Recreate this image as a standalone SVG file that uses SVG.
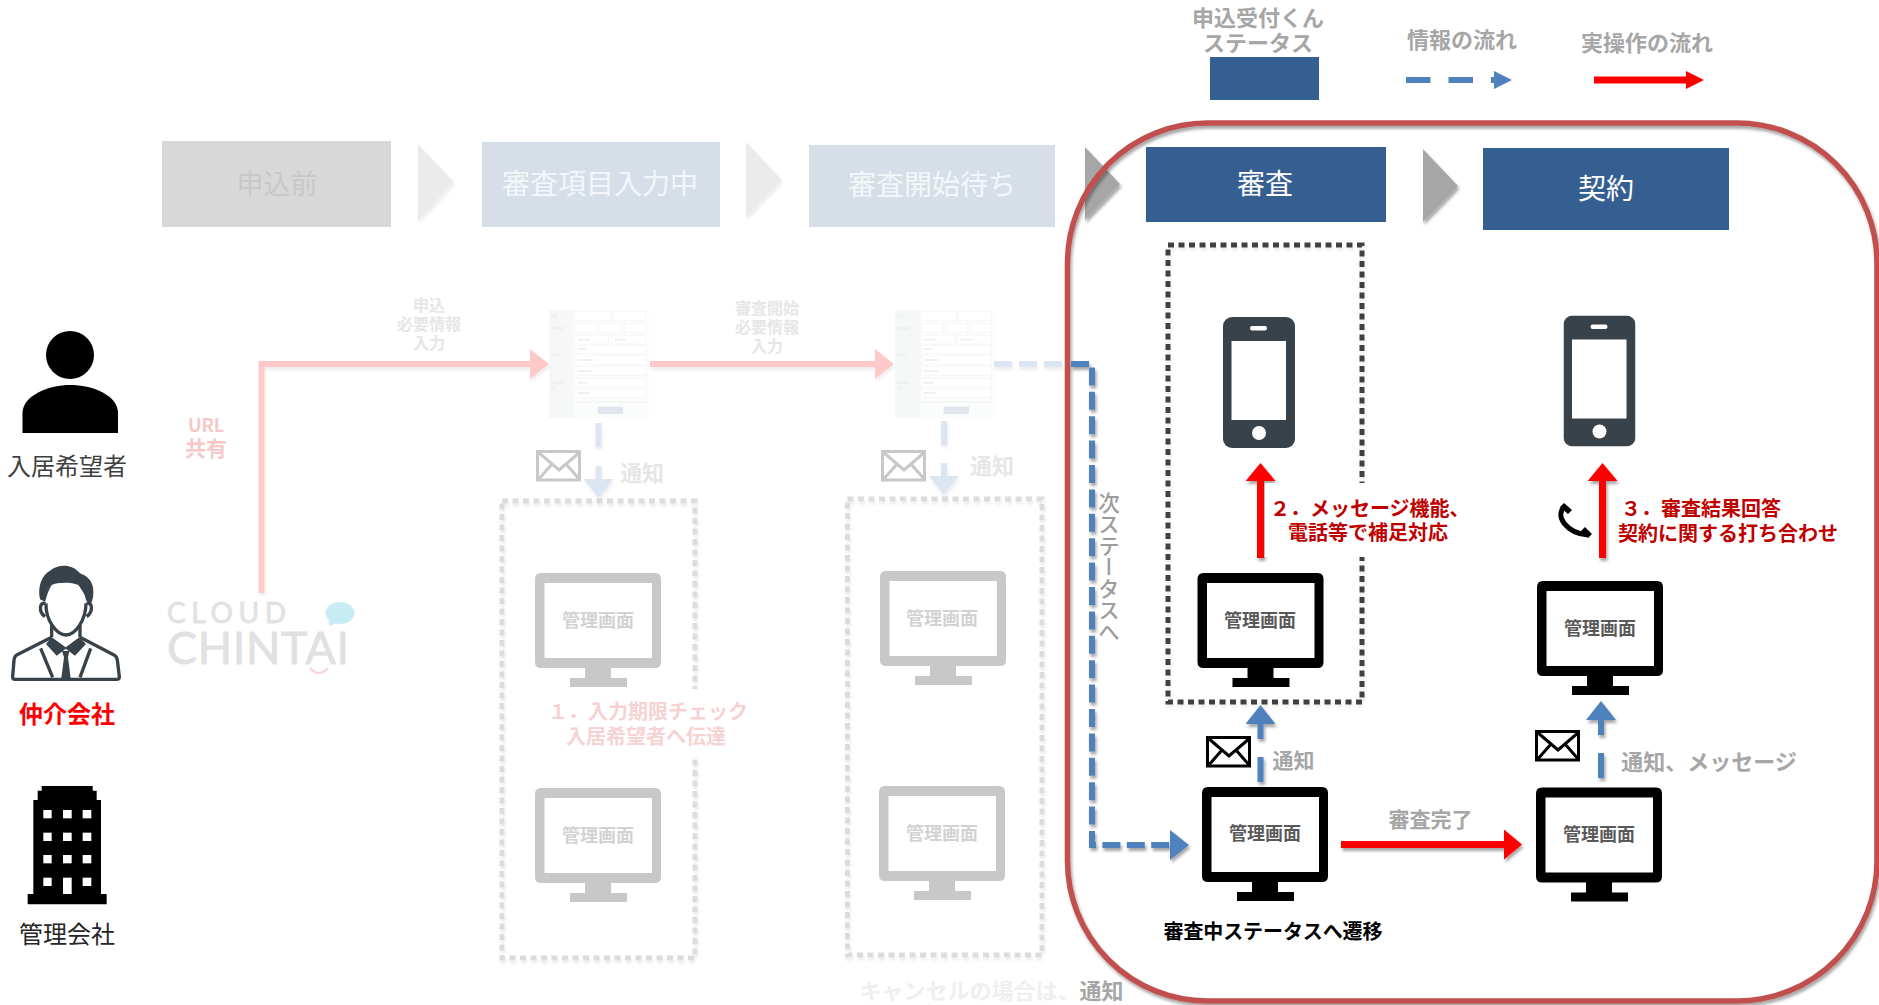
<svg xmlns="http://www.w3.org/2000/svg" xmlns:xlink="http://www.w3.org/1999/xlink" width="1879" height="1005" viewBox="0 0 1879 1005">
<style>
text{font-family:"Noto Sans CJK JP","Noto Sans",sans-serif;text-anchor:middle;dominant-baseline:central;transform:translateY(-2px)}
.b{font-weight:700}
.g{fill:#a6a6a6;font-weight:700}
.hd{fill:#fff;font-size:28px}
.pale{fill:#e6e6e6;font-weight:700}
.mt{fill:#595959;font-size:18px;font-weight:700}
.mtf{fill:#d2d2d2;font-size:18px;font-weight:700}
.red{fill:#c00000;font-size:20px;font-weight:700;text-anchor:start}
.blue{stroke:#4f81bd;stroke-width:6;fill:none}
.bluef{stroke:#dce6f2;stroke-width:6;fill:none}
.redl{stroke:#f00;stroke-width:7;fill:none}
.pink{stroke:#ffc9c9;stroke-width:6;fill:none}
.dot{fill:none;stroke:#404040;stroke-width:5;stroke-dasharray:6 4.5}
.dotf{fill:none;stroke:#dcdcdc;stroke-width:5;stroke-dasharray:6 4.5}
.env{fill:#fff;stroke:#000;stroke-width:3}
.envf{fill:#fff;stroke:#c8c8c8;stroke-width:3}
.tri{fill:#a6a6a6}
.trif{fill:#ebebeb}
.logo{font-family:Lato,sans-serif;text-anchor:start;dominant-baseline:alphabetic;transform:none;stroke-width:.8}
.vert{writing-mode:vertical-rl;dominant-baseline:auto;transform:none}
</style>
<defs>
<filter id="sh" filterUnits="userSpaceOnUse" x="0" y="0" width="1879" height="1005"><feDropShadow dx="1.500" dy="3" stdDeviation="1.800" flood-color="#000" flood-opacity=".35"/></filter>
<filter id="shl" filterUnits="userSpaceOnUse" x="0" y="0" width="1879" height="1005"><feDropShadow dx="1" dy="3" stdDeviation="1.500" flood-color="#000" flood-opacity=".07"/></filter>
<marker id="hr" markerUnits="userSpaceOnUse" markerWidth="18" markerHeight="30" refX="1" refY="15" orient="auto"><path d="M0 0L18 15L0 30Z" fill="#f00"/></marker>
<marker id="hb" markerUnits="userSpaceOnUse" markerWidth="19" markerHeight="30" refX="1" refY="15" orient="auto"><path d="M0 0L19 15L0 30Z" fill="#4f81bd"/></marker>
<marker id="hp" markerUnits="userSpaceOnUse" markerWidth="19" markerHeight="30" refX="1" refY="15" orient="auto"><path d="M0 0L19 15L0 30Z" fill="#ffc9c9"/></marker>
<marker id="hf" markerUnits="userSpaceOnUse" markerWidth="19" markerHeight="30" refX="1" refY="15" orient="auto"><path d="M0 0L19 15L0 30Z" fill="#dce6f2"/></marker>
<marker id="lr" markerUnits="userSpaceOnUse" markerWidth="18" markerHeight="20" refX="1" refY="10" orient="auto"><path d="M0 1L18 10L0 19Z" fill="#f00"/></marker>
<marker id="lb" markerUnits="userSpaceOnUse" markerWidth="18" markerHeight="20" refX="1" refY="10" orient="auto"><path d="M0 1L18 10L0 19Z" fill="#4f81bd"/></marker>
<symbol id="mon" width="127" height="115" viewBox="0 0 127 115" overflow="visible"><path fill-rule="evenodd" d="M6 0H120Q126 0 126 6V89Q126 95 120 95H76V105H92V114H35V105H50V95H6Q0 95 0 89V6Q0 0 6 0ZM9.500 10V85H117V10Z"/></symbol>
<symbol id="envS" width="46" height="32" viewBox="0 0 46 32" overflow="visible"><rect x="1.500" y="1.500" width="42" height="28.500"/><path d="M2 2L23 20L44 2M2 30L16 14M44 30L30 14" fill="none"/></symbol>
<symbol id="phone" width="72" height="131" viewBox="0 0 72 131"><rect width="72" height="131" rx="9" fill="#37424a"/><rect x="8.500" y="24" width="54.500" height="79" fill="#fff"/><rect x="27" y="9" width="17" height="4.500" rx="2.200" fill="#fff"/><ellipse cx="36" cy="116" rx="7" ry="7" fill="#fff"/></symbol>
<symbol id="form" width="100" height="108" viewBox="0 0 300 324">
<rect width="300" height="324" fill="#fbfcfc"/><rect width="74" height="324" fill="#f6f8f8"/>
<g fill="#fff" stroke="#f7f3f3" stroke-width="2"><rect x="78" y="4" width="108" height="28"/><rect x="190" y="4" width="100" height="28"/><rect x="78" y="40" width="66" height="28"/><rect x="152" y="40" width="66" height="28"/><rect x="226" y="40" width="64" height="28"/><rect x="78" y="76" width="100" height="26"/><rect x="188" y="76" width="102" height="26"/><rect x="78" y="106" width="212" height="24"/><rect x="78" y="136" width="212" height="28"/><rect x="78" y="170" width="212" height="26"/><rect x="78" y="206" width="212" height="24"/><rect x="78" y="236" width="212" height="26"/></g>
<g fill="#eff1f1"><rect x="6" y="14" width="22" height="9"/><rect x="6" y="50" width="38" height="9"/><rect x="6" y="130" width="30" height="9"/><rect x="6" y="214" width="38" height="9"/><rect x="6" y="228" width="12" height="9"/><rect x="86" y="86" width="36" height="6"/><rect x="196" y="86" width="36" height="6"/><rect x="86" y="114" width="24" height="6"/><rect x="86" y="147" width="44" height="6"/><rect x="86" y="180" width="44" height="6"/><rect x="86" y="215" width="30" height="6"/><rect x="86" y="246" width="36" height="6"/></g>
<path d="M78 276H290" stroke="#f0f0f0" stroke-width="4" stroke-dasharray="3 2"/><rect x="146" y="290" width="76" height="22" fill="#dfe6ee"/>
</symbol>
</defs>
<rect width="1879" height="1005" fill="#fff"/>

<g id="legend">
<text class="g" x="1258" y="18" font-size="22">申込受付くん</text>
<text class="g" x="1258" y="43" font-size="22">ステータス</text>
<rect x="1210" y="57" width="109" height="43" fill="#365f91"/>
<text class="g" x="1462" y="40" font-size="22">情報の流れ</text>
<text class="g" x="1647" y="43" font-size="22">実操作の流れ</text>
<line class="blue" x1="1406" y1="80" x2="1495" y2="80" stroke-dasharray="24.500 18" marker-end="url(#lb)"/>
<line class="redl" x1="1594" y1="80" x2="1687" y2="80" marker-end="url(#lr)"/>
</g>

<g id="status-bar">
<g id="st-mae"><rect x="162" y="141" width="229" height="86" fill="#d8d8d8"/><text x="277" y="184" font-size="27" fill="#c8c8c8">申込前</text></g>
<g id="st-nyuryoku"><rect x="482" y="142" width="238" height="85" fill="#d6dfe8"/><text class="hd" x="600" y="184" fill-opacity=".75">審査項目入力中</text></g>
<g id="st-machi"><rect x="809" y="145" width="246" height="82" fill="#d6dfe8"/><text class="hd" x="932" y="185" fill-opacity=".75">審査開始待ち</text></g>
<polygon class="trif" filter="url(#shl)" points="418,144 454,182 418,221"/>
<polygon class="trif" filter="url(#shl)" points="746,142 782,180 746,218"/>
<polygon class="tri" filter="url(#sh)" points="1085,147 1120,184 1085,220"/>
</g>

<g id="actors">
<g id="actor-nyukyo"><ellipse cx="70" cy="355" rx="24" ry="24"/><path d="M22.500 433V413C22.500 395 50 385 70 385C92 385 118 395 118 413V433Z"/><text x="67" y="466" font-size="24" fill="#404040">入居希望者</text></g>
<g id="actor-chukai"><g transform="translate(0,540) scale(.33333)" fill="#37424a">
<path d="M120 178C112 140 125 105 150 92C175 72 215 70 240 100C262 108 282 125 280 160C280 175 275 190 270 195L258 180C255 160 245 150 235 135C210 125 170 128 155 135C145 150 140 170 135 185Z"/>
<g fill="none" stroke="#37424a" stroke-width="10"><path d="M138 190C136 240 170 285 198 285C226 285 258 240 258 190"/><path d="M136 190C118 185 115 215 135 230M260 190C278 185 280 215 260 230"/><path d="M155 255V292M240 255V292"/><path d="M155 292L50 345Q44 348 42 360L38 410Q38 418 45 418H350Q358 418 358 410L352 360Q350 348 342 345L240 292"/><path d="M122 325L158 412M272 325L240 412"/></g>
<path d="M138 312L155 292L197 322L238 292L258 312L225 347L197 326L170 347Z"/><path d="M186 333H208L204 352L212 415H184L192 352Z"/></g><text x="67" y="714" font-size="24" fill="#f00" class="b">仲介会社</text></g>
<g id="actor-kanri"><path d="M83 1093V1062H100V780H113V752H125V738H278V752H290V780H303V1062H320V1093Z" transform="translate(0,540) scale(.33333)"/>
<g fill="#fff" transform="translate(0,540) scale(.33333)"><rect x="130" y="810" width="25" height="25"/><rect x="189" y="810" width="26" height="25"/><rect x="248" y="810" width="26" height="25"/><rect x="130" y="878" width="25" height="25"/><rect x="189" y="878" width="26" height="25"/><rect x="248" y="878" width="26" height="25"/><rect x="130" y="945" width="25" height="25"/><rect x="189" y="945" width="26" height="25"/><rect x="248" y="945" width="26" height="25"/><rect x="130" y="1013" width="25" height="25"/><rect x="189" y="1013" width="26" height="49"/><rect x="248" y="1013" width="26" height="25"/></g>
<text x="67" y="934" font-size="24" fill="#262626">管理会社</text></g>
</g>

<g id="logo">
<text class="logo" x="167" y="623" font-size="28" textLength="119" fill="#e0e2e4" stroke="#e0e2e4">CLOUD</text>
<text class="logo" x="167" y="664" font-size="45" textLength="182" fill="#dfe1e3" stroke="#dfe1e3">CHINTAI</text>
<ellipse cx="340" cy="613" rx="14.500" ry="11" fill="#c8ecf4"/><path d="M328 621L330 626L337 623Z" fill="#c8ecf4"/>
<path d="M310 668Q319 678 328 668" fill="none" stroke="#f8d3da" stroke-width="2.500"/>
</g>

<g id="form-1"><use href="#form" x="549" y="310"/></g>
<g id="form-2"><use href="#form" x="895" y="310"/></g>

<g id="faded-labels">
<text class="pale" font-size="16"><tspan x="429" y="306">申込</tspan><tspan x="429" y="325">必要情報</tspan><tspan x="429" y="344">入力</tspan></text>
<text class="pale" font-size="16"><tspan x="767" y="309">審査開始</tspan><tspan x="767" y="328">必要情報</tspan><tspan x="767" y="347">入力</tspan></text>
<text x="206" y="426" font-size="18" fill="#f5c9c9" class="b">URL</text>
<text x="206" y="449" font-size="21" fill="#f5c9c9" class="b">共有</text>
<text class="pale" x="642" y="473" font-size="22">通知</text>
<text class="pale" x="992" y="466" font-size="22">通知</text>
<text x="991.500" y="991" font-size="22" class="b" fill="#efefef">キャンセルの場合は、<tspan fill="#a6a6a6">通知</tspan></text>
</g>

<g id="boxes">
<rect class="dotf" filter="url(#shl)" x="502" y="501" width="193" height="457"/>
<rect class="dotf" filter="url(#shl)" x="847.500" y="499" width="194.500" height="456"/>
<rect class="dot" filter="url(#shl)" x="1168" y="245" width="194" height="457"/>
</g>

<g id="note-1"><rect x="545" y="689" width="205" height="68" fill="#fff"/>
<text x="648" y="712" font-size="20" fill="#f6d2d2" class="b">１．入力期限チェック</text>
<text x="646" y="737" font-size="20" fill="#f6d2d2" class="b">入居希望者へ伝達</text></g>

<g id="faded-connectors">
<path class="pink" filter="url(#shl)" d="M261.500 593V364H531" marker-end="url(#hp)"/>
<line class="pink" filter="url(#shl)" x1="650" y1="364" x2="876" y2="364" marker-end="url(#hp)"/>
<line class="bluef" filter="url(#shl)" x1="994" y1="364" x2="1062" y2="364" stroke-dasharray="18 7"/>
<path class="bluef" filter="url(#shl)" d="M598.500 423V447"/>
<path class="bluef" filter="url(#shl)" d="M598.500 466V480" marker-end="url(#hf)"/>
<path class="bluef" filter="url(#shl)" d="M944 421V445"/>
<path class="bluef" filter="url(#shl)" d="M944 463V477" marker-end="url(#hf)"/>
</g>

<g id="review-frame"><rect x="1067.500" y="123" width="809.500" height="878" rx="140" ry="140" fill="none" stroke="#c0504d" stroke-width="5.500" filter="url(#sh)"/></g>

<g id="status-bar-active">
<g id="st-shinsa"><rect x="1146" y="147" width="240" height="75" fill="#365f91"/><text class="hd" x="1265" y="184">審査</text></g>
<polygon class="tri" filter="url(#sh)" points="1423,149 1458,186 1423,222"/>
<g id="st-keiyaku"><rect x="1483" y="148" width="246" height="82" fill="#365f91"/><text class="hd" x="1606" y="189">契約</text></g>
</g>

<g id="connectors">
<path class="blue" filter="url(#sh)" d="M1071 364H1092V845H1171" stroke-dasharray="18 6.400" marker-end="url(#hb)"/>
<line class="redl" filter="url(#sh)" x1="1341" y1="844.500" x2="1505" y2="844.500" marker-end="url(#hr)"/>
<line class="redl" filter="url(#sh)" x1="1260.500" y1="558" x2="1260.500" y2="480" marker-end="url(#hr)"/>
<line class="redl" filter="url(#sh)" x1="1602.500" y1="558" x2="1602.500" y2="480" marker-end="url(#hr)"/>
<path class="blue" filter="url(#sh)" d="M1260.500 782V757"/>
<path class="blue" filter="url(#sh)" d="M1260.500 739V723" marker-end="url(#hb)"/>
<path class="blue" filter="url(#sh)" d="M1601 778V753"/>
<path class="blue" filter="url(#sh)" d="M1601 735V719" marker-end="url(#hb)"/>
</g>

<g id="labels">
<text class="vert" x="1109" y="567" font-size="21.500" font-weight="500" fill="#9c9c9c">次ステータスへ</text>
<text class="g" x="1430.500" y="820" font-size="21">審査完了</text>
<text class="g" x="1293.500" y="761" font-size="21">通知</text>
<text class="g" x="1709" y="762" font-size="22">通知、メッセージ</text>
<text x="1273" y="932" font-size="20" class="b" fill="#000" textLength="219">審査中ステータスへ遷移</text>
<rect x="1265" y="483" width="195" height="74" fill="#fff"/>
<text class="red" x="1270" y="509">２．メッセージ機能、</text>
<text class="red" x="1288" y="533">電話等で補足対応</text>
<text class="red" x="1621" y="509">３．審査結果回答</text>
<text class="red" x="1618" y="534">契約に関する打ち合わせ</text>
</g>

<g id="icons">
<use class="envf" href="#envS" x="536" y="450"/>
<use class="envf" href="#envS" x="881" y="450"/>
<use class="env" href="#envS" x="1206" y="736"/>
<use class="env" href="#envS" x="1535" y="730"/>
<g id="tel"><path d="M1564 507C1555 516 1566 533 1588 535" fill="none" stroke="#000" stroke-width="5"/><path d="M1564 503L1572 510L1568 514L1560 507ZM1585 527L1592 534L1588 538L1581 531Z"/></g>
<use href="#phone" x="1223" y="317"/>
<use href="#phone" x="1563.500" y="315.500"/>
</g>

<g id="monitors">
<g id="mon-1" fill="#c8c8c8"><use href="#mon" x="535" y="573"/><text class="mtf" x="598" y="621">管理画面</text></g>
<g id="mon-2" fill="#c8c8c8"><use href="#mon" x="535" y="788"/><text class="mtf" x="598" y="836">管理画面</text></g>
<g id="mon-3" fill="#c8c8c8"><use href="#mon" x="880" y="571"/><text class="mtf" x="942" y="619">管理画面</text></g>
<g id="mon-4" fill="#c8c8c8"><use href="#mon" x="879" y="786"/><text class="mtf" x="942" y="834">管理画面</text></g>
<g id="mon-5"><use href="#mon" x="1197.500" y="573"/><text class="mt" x="1260" y="621">管理画面</text></g>
<g id="mon-6"><use href="#mon" x="1537" y="581"/><text class="mt" x="1600" y="629">管理画面</text></g>
<g id="mon-7"><use href="#mon" x="1202" y="787"/><text class="mt" x="1265" y="834">管理画面</text></g>
<g id="mon-8"><use href="#mon" x="1536" y="787.500"/><text class="mt" x="1599" y="835">管理画面</text></g>
</g>
</svg>
